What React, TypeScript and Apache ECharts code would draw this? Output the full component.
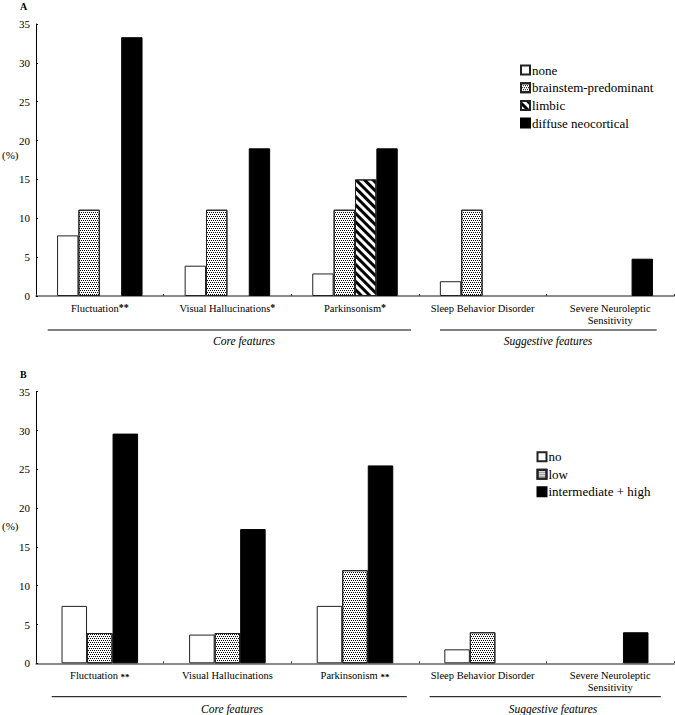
import React, { useEffect, useRef } from "react";
import * as echarts from "echarts";

const categories = [
  "Fluctuation",
  "Visual Hallucinations",
  "Parkinsonism",
  "Sleep Behavior Disorder",
  "Severe Neuroleptic\nSensitivity",
];
const starsA = ["**", "*", "*", "", ""];
const starsB = ["**", "", "**", "", ""];

const seriesNamesA = ["none", "brainstem-predominant", "limbic", "diffuse neocortical"];
const noneA = [7.8, 3.9, 2.9, 1.9, null];
const brainstemA = [11.1, 11.1, 11.1, 11.1, null];
const limbicA = [null, null, 15.0, null, null];
const diffuseA = [33.3, 19.0, 19.0, null, 4.8];

const seriesNamesB = ["no", "low", "intermediate + high"];
const noB = [7.4, 3.7, 7.4, 1.8, null];
const lowB = [3.9, 3.9, 12.0, 4.0, null];
const highB = [29.6, 17.3, 25.5, null, 4.0];

const yTicks = { min: 0, max: 35, interval: 5 };
const groupLabels = ["Core features", "Suggestive features"];

const FONT = "Liberation Serif";

const dotDecal = {
  symbol: "rect",
  symbolSize: 1,
  color: "#000",
  dashArrayX: [
    [1, 1],
    [0, 1, 1, 0],
  ],
  dashArrayY: [1, 1],
  rotation: 0,
};
const stripeDecal = {
  symbol: "rect",
  symbolSize: 1,
  color: "#000",
  dashArrayX: [1, 0],
  dashArrayY: [3, 3],
  rotation: Math.PI / 4,
};

const whiteStyle = { color: "#fff", borderColor: "#222", borderWidth: 1 };
const dotStyle = { color: "#fff", borderColor: "#222", borderWidth: 1, decal: dotDecal };
const stripeStyle = { color: "#fff", borderColor: "#222", borderWidth: 1, decal: stripeDecal };
const blackStyle = { color: "#000", borderColor: "#000", borderWidth: 1 };

function makeLabel(stars: string[], sup: boolean) {
  return {
    color: "#000",
    fontFamily: FONT,
    fontSize: 10.5,
    margin: 6,
    interval: 0,
    lineHeight: 12,
    formatter: (value: string, index: number) => {
      const lines = value.split("\n").map((l) => `{n|${l}}`).join("\n");
      const s = stars[index];
      if (!s) return lines;
      return sup ? `${lines}{s|${s}}` : `${lines}{m| }{t|${s}}`;
    },
    rich: {
      n: { fontFamily: FONT, fontSize: 10.5, lineHeight: 12, color: "#000" },
      s: {
        fontFamily: FONT,
        fontSize: 10,
        fontWeight: "bold",
        lineHeight: 4,
        verticalAlign: "top",
        color: "#000",
      },
      m: { fontFamily: FONT, fontSize: 10.5, lineHeight: 12 },
      t: {
        fontFamily: FONT,
        fontSize: 9,
        fontWeight: "bold",
        lineHeight: 8,
        verticalAlign: "bottom",
        color: "#000",
      },
    },
  };
}

function xAxisCfg(gridIndex: number, stars: string[], sup: boolean) {
  return {
    type: "category",
    gridIndex,
    data: categories,
    axisLine: { show: true, lineStyle: { color: "#666", width: 1.5 } },
    axisTick: { show: true, inside: true, length: 2, lineStyle: { color: "#333" } },
    axisLabel: makeLabel(stars, sup),
    splitLine: { show: false },
  };
}

function yAxisCfg(gridIndex: number) {
  return {
    type: "value",
    gridIndex,
    min: yTicks.min,
    max: yTicks.max,
    interval: yTicks.interval,
    axisLine: { show: true, lineStyle: { color: "#000", width: 1 } },
    axisTick: { show: true, inside: true, length: 2, lineStyle: { color: "#000" } },
    axisLabel: { color: "#000", fontFamily: FONT, fontSize: 11, margin: 6 },
    splitLine: { show: false },
  };
}

const legendText = { fontFamily: FONT, fontSize: 13, color: "#000", lineHeight: 13, padding: [0, 0, 0, -3] };

export default function App() {
  const ref = useRef<HTMLDivElement>(null);
  useEffect(() => {
    if (!ref.current) return;
    const chart = echarts.init(ref.current, undefined, { renderer: "svg" });
    const txt = (text: string, x: number, y: number, extra: any = {}) => ({
      type: "text",
      x,
      y,
      silent: true,
      style: {
        text,
        fontFamily: FONT,
        fontSize: 11,
        fill: "#000",
        align: "left",
        verticalAlign: "middle",
        textAlign: "left",
        textVerticalAlign: "middle",
        ...extra,
      },
    });
    const hline = (x1: number, x2: number, y: number) => ({
      type: "line",
      silent: true,
      shape: { x1, y1: y, x2, y2: y },
      style: { stroke: "#000", lineWidth: 1 },
    });
    chart.setOption({
      animation: false,
      backgroundColor: "#fff",
      textStyle: { fontFamily: FONT },
      grid: [
        { left: 36, top: 24, width: 638, height: 272 },
        { left: 36, top: 391.7, width: 638, height: 271.6 },
      ],
      xAxis: [xAxisCfg(0, starsA, true), xAxisCfg(1, starsB, false)],
      yAxis: [yAxisCfg(0), yAxisCfg(1)],
      legend: [
        {
          data: seriesNamesA,
          orient: "vertical",
          left: 515,
          top: 58.5,
          itemWidth: 9,
          itemHeight: 9,
          itemGap: 4.7,
          icon: "rect",
          selectedMode: false,
          textStyle: legendText,
        },
        {
          data: seriesNamesB,
          orient: "vertical",
          left: 531.5,
          top: 445.2,
          itemWidth: 9,
          itemHeight: 9,
          itemGap: 4.5,
          icon: "rect",
          selectedMode: false,
          textStyle: legendText,
        },
      ],
      series: [
        { name: seriesNamesA[0], type: "bar", xAxisIndex: 0, yAxisIndex: 0, data: noneA, itemStyle: whiteStyle, barGap: "0%", barCategoryGap: "33%" },
        { name: seriesNamesA[1], type: "bar", xAxisIndex: 0, yAxisIndex: 0, data: brainstemA, itemStyle: dotStyle, barGap: "0%", barCategoryGap: "33%" },
        { name: seriesNamesA[2], type: "bar", xAxisIndex: 0, yAxisIndex: 0, data: limbicA, itemStyle: stripeStyle, barGap: "0%", barCategoryGap: "33%" },
        { name: seriesNamesA[3], type: "bar", xAxisIndex: 0, yAxisIndex: 0, data: diffuseA, itemStyle: blackStyle, barGap: "0%", barCategoryGap: "33%" },
        { name: seriesNamesB[0], type: "bar", xAxisIndex: 1, yAxisIndex: 1, data: noB, itemStyle: whiteStyle, barGap: "0%", barCategoryGap: "40%" },
        { name: seriesNamesB[1], type: "bar", xAxisIndex: 1, yAxisIndex: 1, data: lowB, itemStyle: dotStyle, barGap: "0%", barCategoryGap: "40%" },
        { name: seriesNamesB[2], type: "bar", xAxisIndex: 1, yAxisIndex: 1, data: highB, itemStyle: blackStyle, barGap: "0%", barCategoryGap: "40%" },
      ],
      graphic: [
        txt("A", 20, 6, { fontWeight: "bold", fontSize: 10 }),
        txt("(%)", 2, 155),
        txt("B", 20, 374, { fontWeight: "bold", fontSize: 10 }),
        txt("(%)", 2, 526),
        hline(47.7, 411, 330),
        hline(440, 656.7, 330),
        txt(groupLabels[0], 244, 340.7, { fontStyle: "italic", fontSize: 11.5, align: "center", textAlign: "center" }),
        txt(groupLabels[1], 548, 340.7, { fontStyle: "italic", fontSize: 11.5, align: "center", textAlign: "center" }),
        hline(51.7, 406.8, 696.7),
        hline(429.6, 660.8, 696.7),
        txt(groupLabels[0], 232, 709.3, { fontStyle: "italic", fontSize: 11.5, align: "center", textAlign: "center" }),
        txt(groupLabels[1], 553, 709.3, { fontStyle: "italic", fontSize: 11.5, align: "center", textAlign: "center" }),
      ],
    });
    return () => chart.dispose();
  }, []);
  return (
    <div
      ref={ref}
      style={{ position: "absolute", left: 0, top: 0, width: 675, height: 715, background: "#fff" }}
    />
  );
}
